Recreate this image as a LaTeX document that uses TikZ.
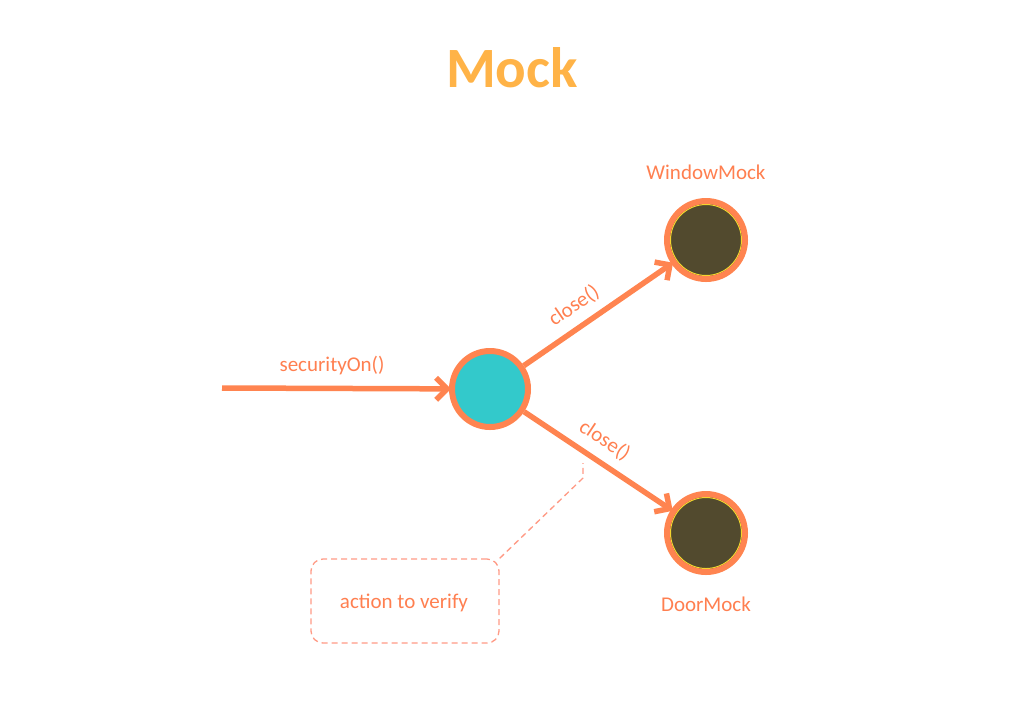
\documentclass[tikz,border=0pt]{standalone}
\usepackage{fontspec}
\setmainfont{Carlito}
\usetikzlibrary{arrows.meta}
\definecolor{coral}{HTML}{FF8450}
\definecolor{labelc}{HTML}{FF7F50}
\definecolor{titlec}{HTML}{FFB347}
\definecolor{tealc}{HTML}{33C9CB}
\definecolor{olivec}{HTML}{524A2E}
\definecolor{ringy}{HTML}{F5E02A}
\definecolor{dashc}{HTML}{FF9A85}
\tikzset{
  lbl/.style={text=labelc, font=\fontsize{21}{24}\selectfont, inner sep=0pt},
  hub/.style={circle, draw=coral, line width=6pt, fill=tealc, minimum size=76pt, inner sep=0pt},
  mocknode/.style={circle, draw=coral, line width=6pt, fill=olivec, minimum size=78pt, inner sep=0pt,
    path picture={\draw[ringy, line width=1pt] (path picture bounding box.center) circle (35.5pt);}},
  callarrow/.style={draw=coral, line width=5.5pt, shorten >=-2pt, -{Straight Barb[length=11pt,width=22pt,line width=5.5pt]}},
  note/.style={draw=dashc, line width=1.3pt, dash pattern=on 6pt off 4pt},
}
\begin{document}
\begin{tikzpicture}[x=1pt, y=-1pt]
\useasboundingbox (0,0) rectangle (1024,724);
\node[text=titlec, font=\bfseries\fontsize{57}{60}\selectfont] (title) at (512,68) {Mock};
\node[hub] (c) at (490,389) {};
\node[mocknode] (w) at (706,240) {};
\node[mocknode] (d) at (706,533) {};
\node[lbl] (wl) at (706,172) {WindowMock};
\node[lbl] (dl) at (706,604) {DoorMock};
\coordinate (s) at (222,388);
\node[lbl] (sl) at (332,366) {securityOn()};
\draw[callarrow] (s) -- (c);
\draw[callarrow] (c) -- node[lbl, sloped, above=9pt, pos=0.42] (cl1) {close()} (w);
\draw[callarrow] (c) -- node[lbl, sloped, above=9pt, pos=0.47] (cl2) {close()} (d);
\node[note, rounded corners=12pt, minimum width=188pt, minimum height=84pt] (n) at (405,601) {};
\node[lbl] (nt) at (404,603) {action to verify};
\coordinate (k1) at (583,478);
\coordinate (k2) at (583,463);
\draw[note] (n.north east) -- (k1) -- (k2);
\end{tikzpicture}
\end{document}
